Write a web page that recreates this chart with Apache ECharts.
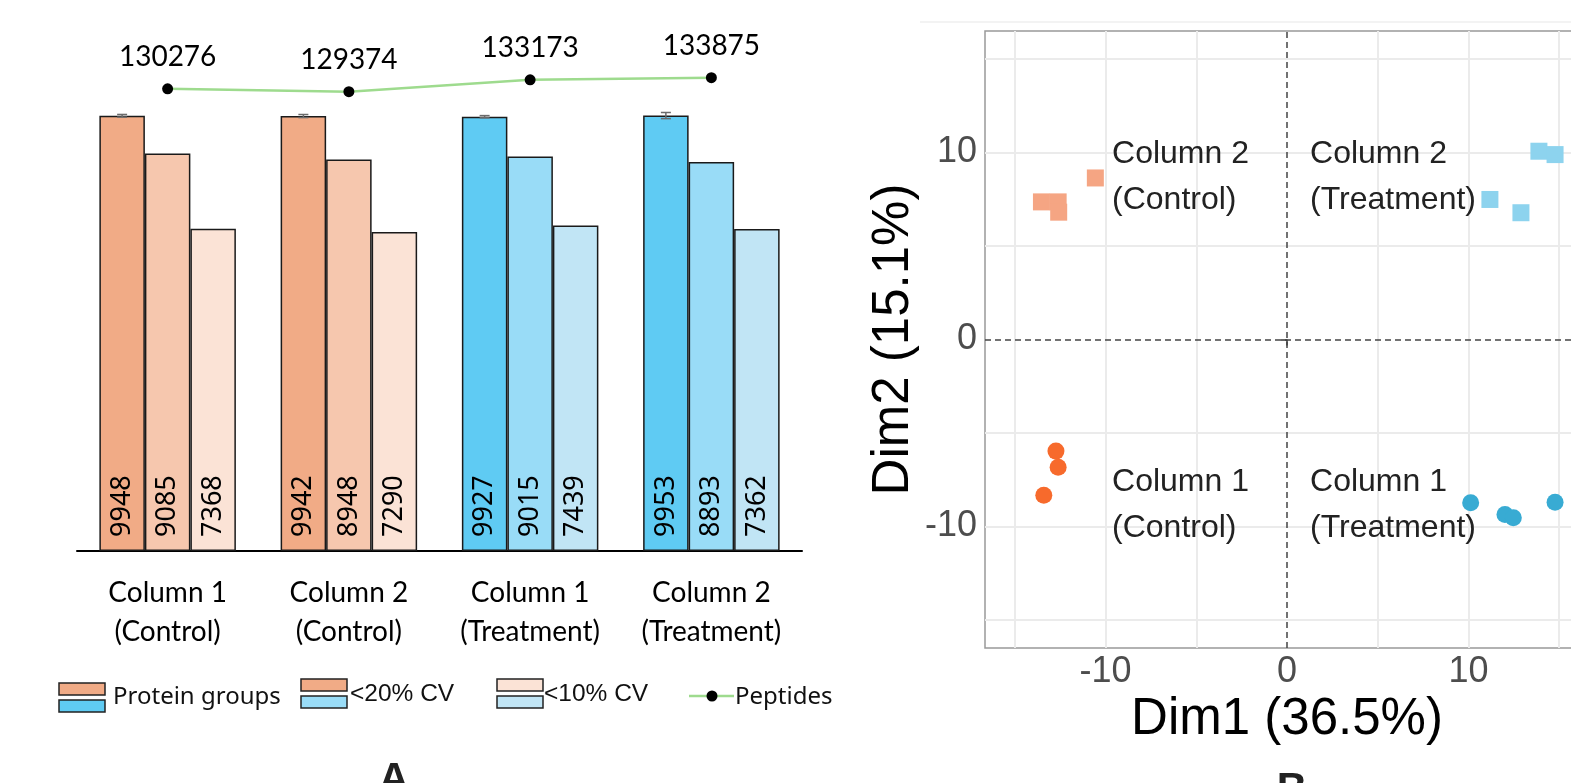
<!DOCTYPE html>
<html>
<head>
<meta charset="utf-8">
<script src="https://cdn.jsdelivr.net/npm/echarts@6.0.0/dist/echarts.min.js"></script>
<style>
html,body{margin:0;padding:0;background:#fff;}
#chart{width:1571px;height:783px;}
</style>
</head>
<body>
<div id="chart"></div>
<script>
// ---------- Panel A data ----------
const categories = ['Column 1\n(Control)', 'Column 2\n(Control)', 'Column 1\n(Treatment)', 'Column 2\n(Treatment)'];
const groupType = ['Control', 'Control', 'Treatment', 'Treatment'];
const seriesNames = ['Protein groups', '<20% CV', '<10% CV'];
const proteinGroups = [9948, 9942, 9927, 9953];
const cv20 = [9085, 8948, 9015, 8893];
const cv10 = [7368, 7290, 7439, 7362];
const proteinErr = [30, 35, 25, 70];
const peptides = [130276, 129374, 133173, 133875];
const legendNames = ['Protein groups', '<20% CV', '<10% CV', 'Peptides'];

// ---------- Panel B data ----------
const ctrlCol2 = [[-13.53, 7.36], [-12.61, 7.36], [-12.58, 6.81], [-10.56, 8.64]];
const trtCol2 = [[11.18, 7.49], [12.89, 6.78], [13.88, 10.07], [14.77, 9.89]];
const ctrlCol1 = [[-12.73, -5.97], [-12.61, -6.83], [-13.40, -8.33]];
const trtCol1 = [[10.12, -8.73], [12.01, -9.36], [12.47, -9.53], [14.77, -8.70]];
const pcaTickValues = [-10, 0, 10];
const pcaGridValues = [-15, -10, -5, 5, 10, 15];
const pcaLabels = ['Column 2\n(Control)', 'Column 2\n(Treatment)', 'Column 1\n(Control)', 'Column 1\n(Treatment)'];
const pcaLabelAnchors = [[-9.64, 8.69], [1.27, 8.69], [-9.64, -8.85], [1.27, -8.85]];

// ---------- styles ----------
const orangeShades = ['#F1AB86', '#F6C7AE', '#FBE3D6'];
const blueShades = ['#5FCBF3', '#99DCF7', '#C1E5F5'];
const barW = 45.5;

const chart = echarts.init(document.getElementById('chart'), null, {renderer: 'canvas'});

function barSeries(idx, values) {
  return {
    name: seriesNames[idx],
    type: 'bar',
    xAxisIndex: 0, yAxisIndex: 0,
    barWidth: barW,
    barGap: '0%',
    data: values.map((v, i) => ({
      value: v,
      itemStyle: {color: groupType[i] === 'Control' ? orangeShades[idx] : blueShades[idx]}
    })),
    itemStyle: {borderColor: '#1a1a1a', borderWidth: 1.5},
    label: {
      show: true, rotate: 90, position: 'insideBottom', align: 'left', verticalAlign: 'middle',
      distance: 14, fontSize: 27, fontFamily: 'Noto Sans', color: '#000'
    },
    silent: true,
    z: 2
  };
}

const pcaMarkLines = pcaGridValues.map(v => ({xAxis: v}))
  .concat(pcaGridValues.map(v => ({yAxis: v})))
  .concat([
    {xAxis: 0, lineStyle: {color: '#444', width: 1.5, type: [6, 4]}},
    {yAxis: 0, lineStyle: {color: '#444', width: 1.5, type: [6, 4]}}
  ]);

function scatter(data, symbol, color) {
  return {
    type: 'scatter', xAxisIndex: 1, yAxisIndex: 2,
    symbol: symbol, symbolSize: 17,
    itemStyle: {color: color, opacity: 1},
    data: data, z: 10, silent: true
  };
}

const legendGraphics = [];
function iconPair(x, y1, y2, c1, c2) {
  legendGraphics.push({type: 'rect', x: x, y: y1, shape: {width: 46, height: 12}, style: {fill: c1, stroke: '#222', lineWidth: 1.5}});
  legendGraphics.push({type: 'rect', x: x, y: y2, shape: {width: 46, height: 12}, style: {fill: c2, stroke: '#222', lineWidth: 1.5}});
}
iconPair(59, 683, 700, orangeShades[0], blueShades[0]);
iconPair(301, 679, 696, orangeShades[0], blueShades[1]);
iconPair(497, 679, 696, orangeShades[2], blueShades[2]);
legendGraphics.push({type: 'text', x: 113, y: 697, style: {text: legendNames[0], font: "24px 'Noto Sans'", fill: '#111', textVerticalAlign: 'middle'}});
legendGraphics.push({type: 'text', x: 350, y: 694, style: {text: legendNames[1], font: "24.5px 'Liberation Sans'", fill: '#111', textVerticalAlign: 'middle'}});
legendGraphics.push({type: 'text', x: 544, y: 694, style: {text: legendNames[2], font: "24.5px 'Liberation Sans'", fill: '#111', textVerticalAlign: 'middle'}});
legendGraphics.push({type: 'line', shape: {x1: 689, y1: 696, x2: 734, y2: 696}, style: {stroke: '#9EDB8E', lineWidth: 2.5}});
legendGraphics.push({type: 'circle', shape: {cx: 712, cy: 696, r: 5.5}, style: {fill: '#000'}});
legendGraphics.push({type: 'text', x: 735, y: 697, style: {text: legendNames[3], font: "24px 'Noto Sans'", fill: '#111', textVerticalAlign: 'middle'}});
legendGraphics.push({type: 'line', shape: {x1: 920, y1: 22, x2: 1571, y2: 22}, style: {stroke: '#EFEFEF', lineWidth: 1.5}});
legendGraphics.push({type: 'text', x: 394, y: 759, style: {text: 'A', font: "bold 42px 'Liberation Sans'", fill: '#222', textAlign: 'center'}});
legendGraphics.push({type: 'text', x: 1292, y: 769, style: {text: 'B', font: "bold 42px 'Liberation Sans'", fill: '#222', textAlign: 'center'}});

const option = {
  animation: false,
  backgroundColor: '#fff',
  grid: [
    {left: 77, top: 26, width: 725, height: 525, containLabel: false, outerBoundsMode: 'none'},
    {left: 985, top: 31, width: 604, height: 617, show: true, borderColor: '#999', borderWidth: 1.5,
     backgroundColor: 'transparent', containLabel: false, outerBoundsMode: 'none'}
  ],
  xAxis: [
    {
      type: 'category', gridIndex: 0, data: categories,
      axisLine: {lineStyle: {color: '#000', width: 2}},
      axisTick: {show: false},
      axisLabel: {fontSize: 28, fontFamily: 'Lato', color: '#000', lineHeight: 39, margin: 22, interval: 0}
    },
    {
      type: 'value', gridIndex: 1, min: -16.64, max: 16.64,
      axisLine: {show: false},
      splitLine: {show: false},
      axisTick: {show: true, customValues: pcaTickValues, length: 6, lineStyle: {color: '#333', width: 1.5}},
      axisLabel: {customValues: pcaTickValues, fontSize: 36, fontFamily: 'Liberation Sans', color: '#4D4D4D', margin: 6},
      name: 'Dim1 (36.5%)', nameLocation: 'middle', nameGap: 40,
      nameTextStyle: {fontSize: 51, fontFamily: 'Liberation Sans', color: '#000'}
    }
  ],
  yAxis: [
    {type: 'value', gridIndex: 0, min: 0, max: 12000, show: false, splitLine: {show: false}},
    {type: 'value', gridIndex: 0, min: -18500, max: 150500, show: false, splitLine: {show: false}},
    {
      type: 'value', gridIndex: 1, min: -16.5, max: 16.5,
      axisLine: {show: false},
      splitLine: {show: false},
      axisTick: {show: true, customValues: pcaTickValues, length: 6, lineStyle: {color: '#333', width: 1.5}},
      axisLabel: {customValues: pcaTickValues, fontSize: 36, fontFamily: 'Liberation Sans', color: '#4D4D4D', margin: 8},
      name: 'Dim2 (15.1%)', nameLocation: 'middle', nameGap: 66, nameRotate: 90,
      nameTextStyle: {fontSize: 51, fontFamily: 'Liberation Sans', color: '#000'}
    }
  ],
  series: [
    barSeries(0, proteinGroups),
    barSeries(1, cv20),
    barSeries(2, cv10),
    {
      type: 'custom', xAxisIndex: 0, yAxisIndex: 0, z: 5, silent: true,
      data: proteinGroups.map((v, i) => [i, v, proteinErr[i]]),
      renderItem: function (params, api) {
        const i = api.value(0), v = api.value(1), e = api.value(2);
        const c = api.coord([i, v]);
        const x = c[0] - barW;
        const yTop = api.coord([i, v + e])[1];
        const yBot = api.coord([i, v - e])[1];
        const st = {stroke: '#6b6b6b', lineWidth: 1.5};
        return {
          type: 'group',
          children: [
            {type: 'line', shape: {x1: x, y1: yTop, x2: x, y2: yBot}, style: st},
            {type: 'line', shape: {x1: x - 5, y1: yTop, x2: x + 5, y2: yTop}, style: st},
            {type: 'line', shape: {x1: x - 5, y1: yBot, x2: x + 5, y2: yBot}, style: st}
          ]
        };
      }
    },
    {
      name: 'Peptides', type: 'line', xAxisIndex: 0, yAxisIndex: 1,
      data: peptides, symbol: 'circle', symbolSize: 11,
      itemStyle: {color: '#000'},
      lineStyle: {color: '#9EDB8E', width: 2.5},
      label: {show: true, position: 'top', distance: 12, fontSize: 28, fontFamily: 'Lato', color: '#000'},
      z: 6, silent: true
    },
    {
      type: 'scatter', xAxisIndex: 1, yAxisIndex: 2, symbolSize: 0, z: 3, silent: true,
      data: pcaLabelAnchors.map((p, i) => ({value: p, name: pcaLabels[i]})),
      itemStyle: {opacity: 1},
      label: {
        show: true, position: 'right', distance: 0, align: 'left', verticalAlign: 'middle',
        formatter: '{b}', fontSize: 32, fontFamily: 'Liberation Sans', color: '#222', lineHeight: 46
      },
      markLine: {
        silent: true, symbol: ['none', 'none'], z: 2, animation: false,
        label: {show: false},
        lineStyle: {color: '#EBEBEB', width: 2, type: 'solid'},
        data: pcaMarkLines
      }
    },
    scatter(ctrlCol2, 'rect', '#F5A583'),
    scatter(trtCol2, 'rect', '#8DD3EE'),
    scatter(ctrlCol1, 'circle', '#F76A2C'),
    scatter(trtCol1, 'circle', '#38ABD3')
  ],
  graphic: legendGraphics
};
chart.setOption(option);
</script>
</body>
</html>
